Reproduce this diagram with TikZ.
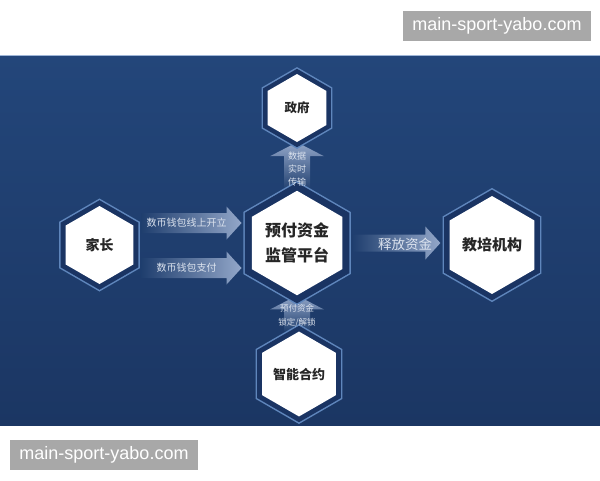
\documentclass[tikz,border=0pt]{standalone}
\usepackage{fontspec}
\setmainfont{Liberation Sans}
\newfontfamily\cjk{Noto Sans CJK SC}
\usepackage{tikz}
\usetikzlibrary{shapes.geometric, calc}

\definecolor{bgtop}{HTML}{23467A}
\definecolor{bgbot}{HTML}{1B3663}
\definecolor{bgc}{HTML}{1F3E6E}
\definecolor{ringc}{HTML}{5F86BC}
\definecolor{bandc}{HTML}{1A3463}
\definecolor{arrowc}{HTML}{93A7C9}
\definecolor{lblc}{HTML}{DCE3EE}
\definecolor{markc}{HTML}{A8A8A8}

\pgfdeclarelayer{back}
\pgfdeclarelayer{arrows}
\pgfsetlayers{back,arrows,main}

\tikzset{
  hexbox/.style={regular polygon, regular polygon sides=6, shape border rotate=30,
    inner sep=0pt, fill=white, text=black!85, align=center,
    preaction={draw=ringc, line width=#1*2+3pt},
    preaction={draw=bandc, line width=#1*2}},
  lbl/.style={text=lblc, align=center, inner sep=0pt},
  hfat/.style={left color=bgc, right color=arrowc,
    to path={let \p1=(\tikztostart), \p2=(\tikztotarget) in
      (\x1,\y1-#1) -- (\x2-15pt,\y1-#1) -- (\x2-15pt,\y1-16.5pt) -- (\x2,\y1)
      -- (\x2-15pt,\y1+16.5pt) -- (\x2-15pt,\y1+#1) -- (\x1,\y1+#1) -- cycle}},
  vfat/.style={bottom color=bgc, top color=arrowc,
    to path={let \p1=(\tikztostart), \p2=(\tikztotarget) in
      (\x1-13pt,\y1) -- (\x1-13pt,\y2-14pt) -- (\x1-27pt,\y2-14pt) -- (\x1,\y2)
      -- (\x1+27pt,\y2-14pt) -- (\x1+13pt,\y2-14pt) -- (\x1+13pt,\y1) -- cycle}},
  wmark/.style={fill=markc, text=white, inner sep=0pt, minimum width=188, minimum height=30,
    font=\fontsize{18}{20}\selectfont}
}

\begin{document}
\begin{tikzpicture}[x=1pt, y=-1pt]
\useasboundingbox (0,0) rectangle (600,480);
\begin{pgfonlayer}{back}
\fill[white] (0,0) rectangle (600,480);
\shade[top color=bgtop, bottom color=bgbot] (0,55) rectangle (600,425);
\draw[color=ringc!60!white, line width=1] (0,55.5) -- (600,55.5);
\end{pgfonlayer}

\node[hexbox=7, minimum size=100, font={\cjk\bfseries\fontsize{16}{25}\selectfont}] (pingtai) at (297,243) {预付资金\\监管平台};
\node[hexbox=5, minimum size=78, font={\cjk\bfseries\fontsize{14}{16}\selectfont}] (jiazhang) at (99.5,245) {家长};
\node[hexbox=5.5, minimum size=80, font={\cjk\bfseries\fontsize{15}{17}\selectfont}] (jiaopei) at (492,245) {教培机构};
\node[hexbox=4.5, minimum size=68, font={\cjk\bfseries\fontsize{12.5}{14}\selectfont}] (zhengfu) at (297,108) {政府};
\node[hexbox=5, minimum size=68, font={\cjk\bfseries\fontsize{13}{15}\selectfont}] (heyue) at (299,374) {智能合约};

\coordinate (kaili-s) at ($(jiazhang.east)+(8,-22)$);
\coordinate (kaili-e) at ($(pingtai.west)+(-10,-20)$);
\coordinate (zhifu-s) at ($(jiazhang.east)+(8,23)$);
\coordinate (zhifu-e) at ($(pingtai.west)+(-10,25)$);
\coordinate (shifang-s) at ($(pingtai.east)+(10,0)$);
\coordinate (shifang-e) at ($(jiaopei.west)+(-9,0)$);
\coordinate (chuanshu-s) at (pingtai.north);
\coordinate (chuanshu-e) at (zhengfu.south);
\coordinate (suoding-s) at (pingtai.south |- heyue.north);
\coordinate (suoding-e) at (pingtai.south);

\begin{pgfonlayer}{arrows}
\shade[hfat=10pt] (kaili-s) to (kaili-e);
\shade[hfat=10pt] (zhifu-s) to (zhifu-e);
\shade[hfat=8.5pt] (shifang-s) to (shifang-e);
\shade[vfat] (chuanshu-s) to (chuanshu-e);
\shade[vfat] (suoding-s) to (suoding-e);
\end{pgfonlayer}

\node[lbl, font={\cjk\fontsize{10}{12}\selectfont}] (kaili) at ($(kaili-s)!0.45!(kaili-e)$) {数币钱包线上开立};
\node[lbl, font={\cjk\fontsize{10}{12}\selectfont}] (zhifu) at ($(zhifu-s)!0.45!(zhifu-e)$) {数币钱包支付};
\node[lbl, font={\cjk\fontsize{13.5}{15}\selectfont}] (shifang) at ($(shifang-s)!0.6!(shifang-e)$) {释放资金};
\node[lbl, font={\cjk\fontsize{9}{13}\selectfont}] (chuanshu) at ($(chuanshu-s)!0.45!(chuanshu-e)$) {数据\\实时\\传输};
\node[lbl, font={\cjk\fontsize{8.5}{14}\selectfont}] (suoding) at ($(suoding-s)!0.43!(suoding-e)$) {预付资金\\锁定/解锁};

\node[wmark] (wm-top) at (497,25.5) {main-sport-yabo.com};
\node[wmark] (wm-bot) at (104,455) {main-sport-yabo.com};
\end{tikzpicture}
\end{document}
